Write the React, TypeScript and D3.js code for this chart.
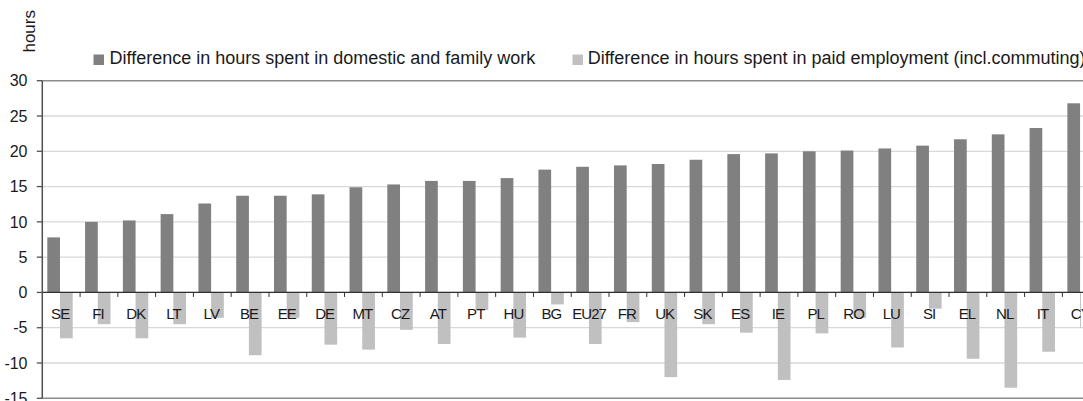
import React from "react";
import * as d3 from "d3";

const categories = ["SE","FI","DK","LT","LV","BE","EE","DE","MT","CZ","AT","PT","HU","BG","EU27","FR","UK","SK","ES","IE","PL","RO","LU","SI","EL","NL","IT","CY"];
const domesticWork = [7.8,10.0,10.2,11.1,12.6,13.7,13.7,13.9,14.9,15.3,15.8,15.8,16.2,17.4,17.8,18.0,18.2,18.8,19.6,19.7,20.0,20.1,20.4,20.8,21.7,22.4,23.3,26.8];
const paidEmployment = [-6.5,-4.5,-6.5,-4.5,-3.6,-8.9,-3.6,-7.4,-8.1,-5.3,-7.3,-2.5,-6.4,-1.7,-7.3,-4.2,-12.0,-4.5,-5.7,-12.4,-5.8,-3.6,-7.8,-2.3,-9.4,-13.5,-8.4,-5.0];
const seriesNames = ["Difference in hours spent in domestic and family work", "Difference in hours spent in paid employment (incl.commuting)"];
const yTicks = [-15,-10,-5,0,5,10,15,20,25,30];

const W = 1083, H = 401;
const DARK = "#808080", LIGHT = "#c0c0c0";
const FONT = "'Liberation Sans', Arial, sans-serif";

export default function App() {
  const left = 42.3, step = 37.78;
  const x0 = d3.scaleBand<string>().domain(categories).range([left, left + step * categories.length]).padding(0);
  const x1 = d3.scaleBand<string>().domain(["d", "p"]).range([0, x0.bandwidth()]).paddingInner(0).paddingOuter(0.4875).align(0.404);
  const y = d3.scaleLinear().domain([-15, 30]).range([398.3, 80.7]);
  const y0 = y(0);
  const right = W;

  return (
    <svg width={W} height={H} style={{ position: "absolute", left: 0, top: 0, background: "#fff" }} fontFamily={FONT}>
      <defs>
        <clipPath id="plotclip"><rect x={left} y={0} width={1081 - left} height={H} /></clipPath>
      </defs>
      {/* grid */}
      {yTicks.map((t) => (
        <line key={"g" + t} x1={left} x2={right} y1={y(t)} y2={y(t)}
          stroke={t === 30 || t === -15 ? "#8c8c8c" : "#d9d9d9"} strokeWidth={t === 30 || t === -15 ? 1.5 : 1.3} />
      ))}
      {/* bars */}
      <g clipPath="url(#plotclip)">
        {categories.map((c, i) => {
          const bx = x0(c)!;
          const d = domesticWork[i], p = paidEmployment[i];
          return (
            <g key={c}>
              <rect x={bx + x1("d")!} width={x1.bandwidth()} y={y(Math.max(0, d))} height={Math.abs(y(d) - y0)} fill={DARK} />
              <rect x={bx + x1("p")!} width={x1.bandwidth()} y={y(Math.max(0, p))} height={Math.abs(y(p) - y0)} fill={LIGHT} />
            </g>
          );
        })}
      </g>
      {/* zero axis */}
      <line x1={left} x2={right} y1={y0} y2={y0} stroke="#303030" strokeWidth={1.3} />
      {categories.map((c, i) => i === 0 ? null : (
        <line key={"t" + c} x1={x0(c)!} x2={x0(c)!} y1={y0} y2={y0 + 4.5} stroke="#303030" strokeWidth={1} />
      ))}
      {/* left axis */}
      <line x1={left} x2={left} y1={y(30)} y2={y(-15)} stroke="#505050" strokeWidth={1.5} />
      {yTicks.map((t) => (
        <g key={"yt" + t}>
          <line x1={left - 5.5} x2={left} y1={y(t)} y2={y(t)} stroke="#505050" strokeWidth={1.3} />
          <text x={27.5} y={y(t)} dy="0.36em" textAnchor="end" fontSize={16} fill="#1a1a1a">{t}</text>
        </g>
      ))}
      {/* category labels */}
      {categories.map((c) => (
        <text key={"l" + c} x={x0(c)! + x0.bandwidth() / 2 - 1} y={319} textAnchor="middle" fontSize={15} letterSpacing={-0.9} fill="#1a1a1a">{c}</text>
      ))}
      {/* y title */}
      <text transform="translate(35,31.3) rotate(-90)" textAnchor="middle" fontSize={17} fill="#1a1a1a">hours</text>
      {/* legend */}
      <rect x={93.5} y={54.5} width={10.5} height={10.5} fill={DARK} />
      <text x={109.5} y={63.5} fontSize={18} fill="#1a1a1a">{seriesNames[0]}</text>
      <rect x={572.5} y={54.5} width={10.5} height={10.5} fill={LIGHT} />
      <text x={587.7} y={63.5} fontSize={18} fill="#1a1a1a">{seriesNames[1]}</text>
    </svg>
  );
}
